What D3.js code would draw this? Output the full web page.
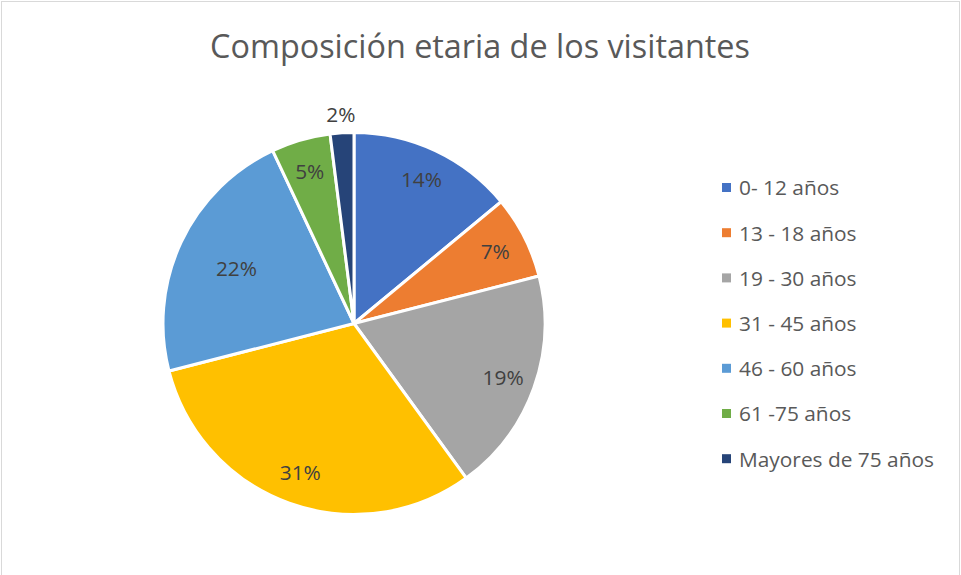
<!DOCTYPE html>
<meta charset="utf-8">
<style>
  html, body { margin: 0; padding: 0; background: #fff; overflow: hidden; }
  svg text { font-family: "Open Sans", "Liberation Sans", sans-serif; }
  .title { fill: #595959; }
  .legend text { fill: #595959; }
  .label { fill: #404040; }
</style>
<body>
<svg width="961" height="575"></svg>
<script src="https://cdn.jsdelivr.net/npm/d3@7"></script>
<script>

var categories = ["0- 12 años", "13 - 18 años", "19 - 30 años", "31 - 45 años",
                  "46 - 60 años", "61 -75 años", "Mayores de 75 años"];
var values = [14, 7, 19, 31, 22, 5, 2];
var colors = ["#4472C4", "#ED7D31", "#A5A5A5", "#FFC000", "#5B9BD5", "#70AD47", "#264478"];
var titleText = "Composición etaria de los visitantes";

var width = 961, height = 575;
var cx = 354, cy = 323.5, radius = 191;

var svg = d3.select("svg");

// chart border
svg.append("rect")
    .attr("x", 1.5).attr("y", 1.5)
    .attr("width", 958).attr("height", 600)
    .attr("fill", "none")
    .attr("stroke", "#d9d9d9")
    .attr("stroke-width", 1);

// fit a text element to a target width
function fitWidth(sel, target, size) {
  sel.style("font-size", size + "px");
  var w = sel.node().getComputedTextLength();
  sel.style("font-size", (size * target / w).toFixed(2) + "px");
}

var title = svg.append("text")
    .attr("class", "title")
    .attr("x", 480).attr("y", 58)
    .attr("text-anchor", "middle")
    .text(titleText);
fitWidth(title, 540, 32);

var data = categories.map(function(c, i) { return {name: c, value: values[i], color: colors[i]}; });

var pie = d3.pie().sort(null).value(function(d) { return d.value; });
var arc = d3.arc().innerRadius(0).outerRadius(radius);
var arcs = pie(data);

var g = svg.append("g").attr("transform", "translate(" + cx + "," + cy + ")");

g.selectAll("path.slice")
  .data(arcs)
  .enter().append("path")
    .attr("class", "slice")
    .attr("d", arc)
    .attr("fill", function(d) { return d.data.color; })
    .attr("stroke", "#fff")
    .attr("stroke-width", 3)
    .attr("stroke-linejoin", "round");

// label placement: inside at ~0.83r, small slices outside, a few nudged in
function labelRadius(d) {
  if (d.data.value < 3) return radius + 18;
  if (d.data.value === 22) return radius * 0.68;
  return radius * 0.83;
}

var labelSize = null;
g.selectAll("text.label")
  .data(arcs)
  .enter().append("text")
    .attr("class", "label")
    .attr("text-anchor", "middle")
    .attr("dy", "0.35em")
    .attr("x", function(d) { var a = (d.startAngle + d.endAngle) / 2; return Math.sin(a) * labelRadius(d); })
    .attr("y", function(d) { var a = (d.startAngle + d.endAngle) / 2; return -Math.cos(a) * labelRadius(d); })
    .style("font-size", "18px")
    .text(function(d) { return d.data.value + "%"; });

// legend
var legend = svg.append("g").attr("class", "legend")
    .attr("transform", "translate(722,188)");

var rowStep = 45.2;
var rows = legend.selectAll("g")
  .data(data)
  .enter().append("g")
    .attr("transform", function(d, i) { return "translate(0," + (i * rowStep) + ")"; });

rows.append("rect")
    .attr("x", 0).attr("y", -5)
    .attr("width", 9).attr("height", 9)
    .attr("fill", function(d) { return d.color; });

var ltext = rows.append("text")
    .attr("x", 17)
    .attr("dy", "0.35em")
    .style("font-size", "18px")
    .text(function(d) { return d.name; });

// size legend font so the longest entry matches the reference width
var longest = ltext.filter(function(d) { return d.name === "Mayores de 75 años"; });
fitWidth(longest, 195, 18);
var fs = longest.style("font-size");
ltext.style("font-size", fs);
g.selectAll("text.label").style("font-size", fs);

</script>
</body>
